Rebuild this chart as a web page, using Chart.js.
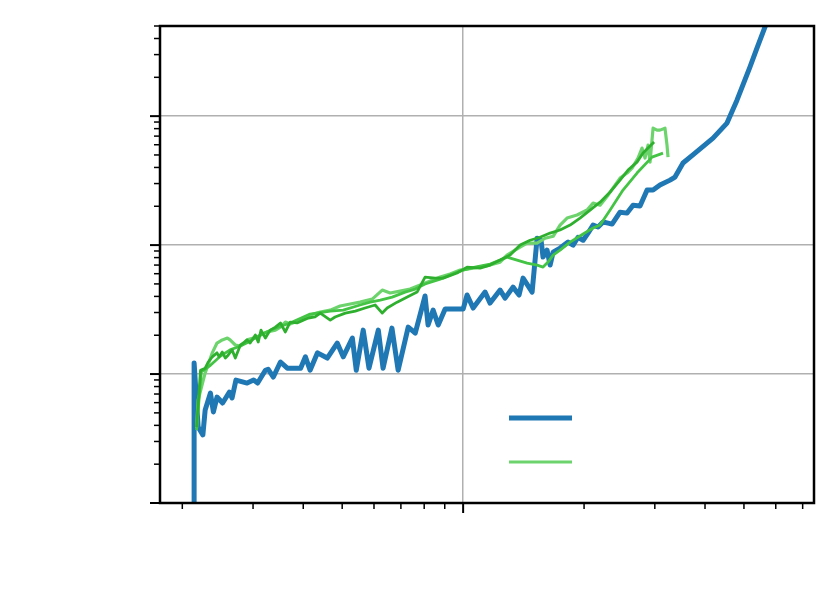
<!DOCTYPE html>
<html>
<head>
<meta charset="utf-8">
<script src="https://cdn.jsdelivr.net/npm/chart.js@4/dist/chart.umd.min.js"></script>
<style>
  body { margin: 0; background: #fff; }
  canvas { display: block; }
</style>
</head>
<body>
<canvas id="chart" width="830" height="604"></canvas>
<script>
// blue series
var blueX = [0.214, 0.214, 0.219, 0.225, 0.228, 0.235, 0.239, 0.244, 0.252, 0.262, 0.266, 0.272, 0.290, 0.301, 0.308, 0.322, 0.327, 0.337, 0.351, 0.365, 0.394, 0.405, 0.416, 0.434, 0.459, 0.486, 0.503, 0.530, 0.542, 0.564, 0.583, 0.615, 0.632, 0.665, 0.689, 0.730, 0.760, 0.804, 0.818, 0.842, 0.867, 0.902, 1.0, 1.023, 1.059, 1.134, 1.167, 1.236, 1.272, 1.331, 1.378, 1.410, 1.485, 1.528, 1.563, 1.581, 1.618, 1.646, 1.675, 1.743, 1.825, 1.878, 1.932, 1.989, 2.046, 2.106, 2.167, 2.230, 2.295, 2.348, 2.458, 2.559, 2.648, 2.756, 2.870, 2.970, 3.090, 3.273, 3.368, 3.526, 3.777, 4.188, 4.537, 4.804, 5.174, 5.387, 5.639, 5.971];
var blueY = [0.5, 12.2, 3.88, 3.37, 5.26, 7.12, 5.08, 6.63, 5.96, 7.25, 6.52, 8.98, 8.51, 8.98, 8.51, 10.7, 10.9, 9.48, 12.4, 11.1, 11.1, 13.6, 10.7, 14.6, 13.3, 17.4, 13.6, 19.0, 10.7, 21.9, 11.1, 21.9, 11.1, 22.7, 10.7, 23.1, 20.8, 40.3, 24.0, 31.3, 24.0, 31.9, 31.9, 41.0, 32.5, 43.2, 35.5, 44.8, 38.8, 47.2, 41.0, 55.5, 43.2, 113, 109, 80.7, 91.4, 70.0, 88.3, 94.8, 105.5, 100, 115, 109, 124, 143, 138, 151, 148, 145.5, 180, 177, 204, 201, 267, 267, 292, 319, 337, 433, 517, 675, 883, 1330, 2400, 3365, 4900, 7925];

// light green series
var lightX = [0.217, 0.219, 0.228, 0.2375, 0.244, 0.2515, 0.259, 0.263, 0.271, 0.279, 0.290, 0.307, 0.325, 0.341, 0.351, 0.361, 0.371, 0.393, 0.416, 0.441, 0.467, 0.494, 0.5235, 0.554, 0.594, 0.629, 0.658, 0.697, 0.738, 0.782, 0.828, 0.877, 0.928, 0.983, 1.059, 1.167, 1.236, 1.286, 1.347, 1.386, 1.443, 1.528, 1.600, 1.675, 1.743, 1.814, 1.921, 2.035, 2.106, 2.192, 2.295, 2.389, 2.458, 2.559, 2.633, 2.725, 2.788, 2.836, 2.886, 2.919, 2.970, 3.038, 3.090, 3.180, 3.217, 3.236];
var lightY = [3.82, 6.29, 10.2, 14.6, 17.4, 18.4, 19.0, 18.4, 16.8, 16.5, 18.4, 19.4, 21.2, 21.9, 23.1, 25.3, 24.4, 26.2, 28.7, 30.2, 31.3, 33.7, 34.9, 36.1, 38.1, 44.8, 42.5, 44.0, 45.6, 49.0, 52.6, 56.5, 59.6, 64.0, 66.3, 70.0, 73.8, 83.7, 91.4, 96.5, 103.6, 103.6, 113, 117, 143, 162, 171, 187, 212, 204, 244, 292, 331, 362, 395, 473, 565, 473, 596, 440, 807, 779, 779, 807, 596, 481];

// dark green series
var darkX = [0.217, 0.222, 0.228, 0.232, 0.2375, 0.244, 0.247, 0.2515, 0.256, 0.260, 0.266, 0.271, 0.279, 0.284, 0.290, 0.295, 0.304, 0.309, 0.314, 0.322, 0.331, 0.341, 0.351, 0.361, 0.371, 0.386, 0.400, 0.412, 0.428, 0.441, 0.467, 0.480, 0.509, 0.539, 0.570, 0.604, 0.629, 0.647, 0.685, 0.726, 0.768, 0.804, 0.852, 0.892, 0.966, 1.023, 1.102, 1.167, 1.236, 1.309, 1.386, 1.468, 1.554, 1.646, 1.743, 1.846, 1.954, 2.070, 2.192, 2.322, 2.458, 2.573, 2.709, 2.804, 2.987];
var darkY = [3.88, 10.7, 11.1, 12.4, 13.6, 14.6, 13.6, 14.8, 13.3, 14.0, 15.4, 13.3, 16.8, 17.4, 18.4, 17.4, 20.1, 17.7, 21.9, 19.0, 21.9, 23.1, 24.9, 21.2, 25.3, 24.9, 26.2, 27.2, 27.7, 29.7, 26.2, 27.7, 29.7, 30.8, 32.5, 34.3, 29.7, 32.5, 36.1, 39.5, 43.2, 56.5, 55.5, 55.5, 60.7, 67.5, 66.3, 70.0, 76.5, 83.7, 100, 109, 115, 124, 131, 143, 162, 187, 215, 258, 319, 382, 440, 517, 629];

// mid green series
var midX = [0.217, 0.223, 0.235, 0.249, 0.263, 0.279, 0.295, 0.316, 0.341, 0.371, 0.416, 0.467, 0.503, 0.554, 0.587, 0.622, 0.666, 0.717, 0.760, 0.804, 0.877, 0.955, 1.0, 1.071, 1.167, 1.236, 1.286, 1.362, 1.443, 1.528, 1.581, 1.627, 1.675, 1.743, 1.846, 1.989, 2.106, 2.192, 2.322, 2.500, 2.709, 2.952, 3.144];
var midY = [3.68, 10.4, 11.7, 13.8, 15.4, 16.5, 18.0, 20.4, 22.7, 24.9, 29.2, 30.8, 31.3, 34.3, 36.1, 37.5, 39.5, 43.2, 45.6, 49.9, 54.5, 60.7, 64.0, 67.5, 71.2, 76.5, 80.7, 76.5, 72.5, 70.0, 67.5, 73.8, 83.7, 91.4, 105.5, 122, 135.5, 143, 187, 267, 362, 481, 517];

// axis ticks
var xTicks = [0.2, 0.3, 0.4, 0.5, 0.6, 0.7, 0.8, 0.9, 1, 2, 3, 4, 5, 6, 7];
var xMajor = [1];
var yTicks = [1, 2, 3, 4, 5, 6, 7, 8, 9, 10, 20, 30, 40, 50, 60, 70, 80, 90, 100, 200, 300, 400, 500, 600, 700, 800, 900, 1000, 2000, 3000, 4000, 5000];
var yMajor = [1, 10, 100, 1000];

function pairs(xs, ys) {
    return xs.map(function(x, i) { return { x: x, y: ys[i] }; });
}

function tickList(values, majors) {
    return values.map(function(v) { return { value: v, major: majors.indexOf(v) >= 0 }; });
}

// spines, tick marks and legend drawn on top like matplotlib
var framePlugin = {
    id: 'frame',
    afterDraw: function(chart) {
        var ctx = chart.ctx;
        var a = chart.chartArea;
        ctx.save();
        ctx.strokeStyle = '#000';
        chart.scales.x.ticks.forEach(function(t) {
            var px = chart.scales.x.getPixelForValue(t.value);
            ctx.lineWidth = t.major ? 2 : 1.5;
            ctx.beginPath();
            ctx.moveTo(px, a.bottom);
            ctx.lineTo(px, a.bottom + (t.major ? 10 : 6));
            ctx.stroke();
        });
        chart.scales.y.ticks.forEach(function(t) {
            var py = chart.scales.y.getPixelForValue(t.value);
            ctx.lineWidth = t.major ? 2 : 1.5;
            ctx.beginPath();
            ctx.moveTo(a.left, py);
            ctx.lineTo(a.left - (t.major ? 10 : 6), py);
            ctx.stroke();
        });
        ctx.lineWidth = 2.5;
        ctx.strokeRect(a.left, a.top, a.right - a.left, a.bottom - a.top);

        // legend handles (labels are not shown)
        [0, 1].forEach(function(i, k) {
            var ds = chart.data.datasets[i];
            var y = 418 + k * 44;
            ctx.strokeStyle = ds.borderColor;
            ctx.lineWidth = ds.borderWidth;
            ctx.beginPath();
            ctx.moveTo(509, y);
            ctx.lineTo(572, y);
            ctx.stroke();
        });
        ctx.restore();
    }
};

window.onload = function() {
    var ctx = document.getElementById('chart').getContext('2d');
    var chart = new Chart(ctx, {
        type: 'line',
        data: {
            datasets: [{
                label: 'blue',
                data: pairs(blueX, blueY),
                borderColor: '#1f77b4',
                borderWidth: 5,
                order: 10
            }, {
                label: 'light',
                data: pairs(lightX, lightY),
                borderColor: '#6dd46d',
                borderWidth: 3.2,
                order: 3
            }, {
                label: 'mid',
                data: pairs(midX, midY),
                borderColor: '#44c444',
                borderWidth: 2.8,
                order: 2
            }, {
                label: 'dark',
                data: pairs(darkX, darkY),
                borderColor: '#2eb02e',
                borderWidth: 2.8,
                order: 1
            }]
        },
        options: {
            responsive: false,
            animation: false,
            parsing: false,
            layout: {
                padding: { left: 160, top: 26, right: 16, bottom: 101 }
            },
            elements: {
                point: { radius: 0 },
                line: { tension: 0, borderJoinStyle: 'round', fill: false }
            },
            datasets: {
                line: { clip: 0 }
            },
            scales: {
                x: {
                    type: 'logarithmic',
                    min: 0.176,
                    max: 7.47,
                    bounds: 'data',
                    afterBuildTicks: function(axis) { axis.ticks = tickList(xTicks, xMajor); },
                    ticks: { display: false },
                    border: { display: false },
                    grid: {
                        drawTicks: false,
                        lineWidth: 1.5,
                        color: function(c) { return c.tick && c.tick.major ? '#b0b0b0' : 'rgba(0,0,0,0)'; }
                    }
                },
                y: {
                    type: 'logarithmic',
                    min: 1,
                    max: 5000,
                    bounds: 'data',
                    afterBuildTicks: function(axis) { axis.ticks = tickList(yTicks, yMajor); },
                    ticks: { display: false },
                    border: { display: false },
                    grid: {
                        drawTicks: false,
                        lineWidth: 1.5,
                        color: function(c) { return c.tick && c.tick.major ? '#b0b0b0' : 'rgba(0,0,0,0)'; }
                    }
                }
            },
            plugins: {
                legend: { display: false },
                tooltip: { enabled: false }
            }
        },
        plugins: [framePlugin]
    });
};
</script>
</body>
</html>
